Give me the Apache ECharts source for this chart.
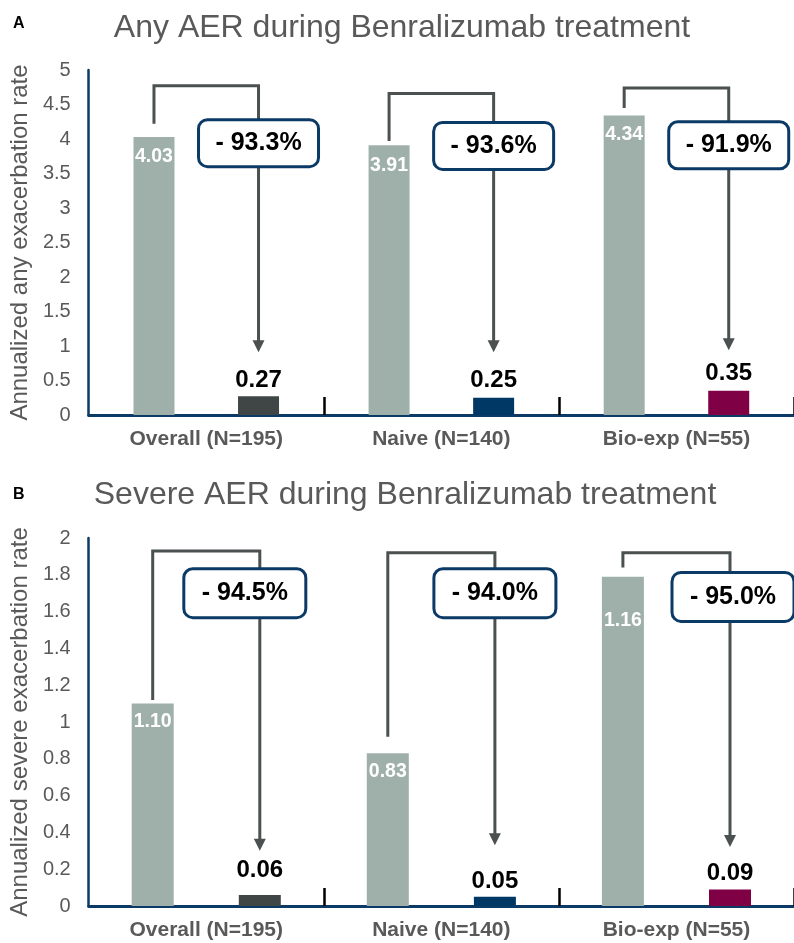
<!DOCTYPE html>
<html>
<head>
<meta charset="utf-8">
<script src="https://cdn.jsdelivr.net/npm/echarts@6/dist/echarts.min.js"></script>
<style>
  html, body { margin: 0; padding: 0; background: #ffffff; }
  #chart { width: 794px; height: 943px; }
</style>
</head>
<body>
<div id="chart"></div>
<script>
// ---------- data ----------
const categories = ['Overall (N=195)', 'Naive (N=140)', 'Bio-exp (N=55)'];

const anyBaseline = [4.03, 3.91, 4.34];
const anyTreatment = [0.27, 0.25, 0.35];
const anyReduction = ['- 93.3%', '- 93.6%', '- 91.9%'];

const severeBaseline = [1.10, 0.83, 1.79];          // bar heights as drawn
const severeBaselineLabels = ['1.10', '0.83', '1.16']; // labels as printed
const severeTreatment = [0.06, 0.05, 0.09];
const severeReduction = ['- 94.5%', '- 94.0%', '- 95.0%'];

const anyTicks = { min: 0, max: 5, interval: 0.5 };
const severeTicks = { min: 0, max: 2, interval: 0.2 };

// bracket annotations, in axis value units
const anyBracketTop = [4.77, 4.66, 4.74];
const anyBracketStart = [4.22, 3.97, 4.45];
const anyArrowTip = [0.91, 0.91, 0.94];
const anyBoxCenter = [3.94, 3.90, 3.91];

const severeBracketTop = [1.93, 1.92, 1.92];
const severeBracketStart = [1.12, 0.92, 1.84];
const severeArrowTip = [0.30, 0.33, 0.32];
const severeBoxCenter = [1.70, 1.70, 1.68];

// ---------- style ----------
const FONT = '"Liberation Sans", Arial, sans-serif';
const GRAY_BAR = '#9fb0aa';
const TREAT_COLORS = ['#404545', '#003865', '#800046'];
const AXIS_COLOR = '#0b3a66';
const TEXT_GRAY = '#595959';
const LINE_COLOR = '#4b5050';

const panels = [
  { grid: { left: 88, top: 70, height: 345, width: 709.5 }, barWidth: 41, barGap: 1.55,
    boxW: 120, boxH: 47, boxShift: [0, 0, 0] },
  { grid: { left: 88, top: 538, height: 368, width: 717 }, barWidth: 42, barGap: 1.55,
    boxW: 122, boxH: 49, boxShift: [-15, 0, 3] }
];

function makeAnnotation(pIdx, reduction, tops, starts, tips, boxCenters) {
  const p = panels[pIdx];
  const off = p.barWidth * (1 + p.barGap) / 2;
  return {
    type: 'custom',
    xAxisIndex: pIdx, yAxisIndex: pIdx,
    z: 10, silent: true, clip: false,
    data: categories.map((c, i) => [i]),
    encode: { x: 0 },
    renderItem: function (params, api) {
      const i = api.value(0);
      const cx = api.coord([i, 0])[0];
      const lx = cx - off, rx = cx + off;
      const yTop = api.coord([i, tops[i]])[1];
      const yStart = api.coord([i, starts[i]])[1];
      const yTip = api.coord([i, tips[i]])[1];
      const yBox = api.coord([i, boxCenters[i]])[1];
      const ah = 12, aw = 6;
      const bx = rx + p.boxShift[i];
      return {
        type: 'group',
        children: [
          { type: 'polyline', shape: { points: [[lx, yStart], [lx, yTop], [rx, yTop], [rx, yTip - ah + 1]] },
            style: { stroke: LINE_COLOR, lineWidth: 3, fill: null } },
          { type: 'polygon', shape: { points: [[rx - aw, yTip - ah], [rx + aw, yTip - ah], [rx, yTip]] },
            style: { fill: LINE_COLOR } },
          { type: 'rect', shape: { x: bx - p.boxW / 2, y: yBox - p.boxH / 2, width: p.boxW, height: p.boxH, r: 9 },
            style: { fill: '#ffffff', stroke: AXIS_COLOR, lineWidth: 3 } },
          { type: 'text', style: { text: reduction[i], x: bx, y: yBox, align: 'center', verticalAlign: 'middle',
            font: 'bold 25px ' + FONT, fill: '#000000' } }
        ]
      };
    }
  };
}

function baselineSeries(pIdx, values, labels, distances) {
  const p = panels[pIdx];
  return {
    type: 'bar', xAxisIndex: pIdx, yAxisIndex: pIdx,
    barWidth: p.barWidth, barGap: (p.barGap * 100) + '%',
    itemStyle: { color: GRAY_BAR },
    data: values.map((v, i) => ({
      value: v,
      label: { show: true, position: 'insideTop', distance: distances[i],
        formatter: labels[i], color: '#ffffff', fontWeight: 'bold', fontSize: 19.5, fontFamily: FONT }
    }))
  };
}

function treatmentSeries(pIdx, values, distances) {
  const p = panels[pIdx];
  return {
    type: 'bar', xAxisIndex: pIdx, yAxisIndex: pIdx,
    barWidth: p.barWidth, barGap: (p.barGap * 100) + '%',
    data: values.map((v, i) => ({
      value: v,
      itemStyle: { color: TREAT_COLORS[i] },
      label: { show: true, position: 'top', distance: distances[i],
        formatter: v.toFixed(2), color: '#000000', fontWeight: 'bold', fontSize: 24, fontFamily: FONT }
    }))
  };
}

function xAxis(gi) {
  return {
    type: 'category', gridIndex: gi, data: categories,
    axisLine: { lineStyle: { color: AXIS_COLOR, width: 3 } },
    axisTick: { show: true, inside: true, length: 18, interval: function (idx) { return idx > 0; },
      lineStyle: { color: '#000000', width: 2.5 } },
    axisLabel: { color: TEXT_GRAY, fontWeight: 'bold', fontSize: 21, fontFamily: FONT, margin: 14 }
  };
}

function yAxis(gi, ticks, name) {
  return {
    type: 'value', gridIndex: gi, min: ticks.min, max: ticks.max, interval: ticks.interval,
    name: name, nameLocation: 'middle', nameGap: 55,
    nameTextStyle: { color: TEXT_GRAY, fontSize: 24, fontFamily: FONT },
    axisLine: { show: true, lineStyle: { color: AXIS_COLOR, width: 2.5 } },
    axisTick: { show: false },
    splitLine: { show: false },
    axisLabel: { color: TEXT_GRAY, fontSize: 20, fontFamily: FONT, margin: 18 }
  };
}

const chart = echarts.init(document.getElementById('chart'), null, { renderer: 'canvas' });
chart.setOption({
  animation: false,
  backgroundColor: '#ffffff',
  title: [
    { text: 'A', left: 13, top: 16, padding: 0, textStyle: { fontSize: 16, fontWeight: 'bold', color: '#000', fontFamily: FONT } },
    { text: 'Any AER during Benralizumab treatment', left: 402, textAlign: 'center', top: 12, padding: 0,
      textStyle: { fontSize: 32, fontWeight: 'normal', color: TEXT_GRAY, fontFamily: FONT } },
    { text: 'B', left: 13, top: 487, padding: 0, textStyle: { fontSize: 16, fontWeight: 'bold', color: '#000', fontFamily: FONT } },
    { text: 'Severe AER during Benralizumab treatment', left: 405, textAlign: 'center', top: 479, padding: 0,
      textStyle: { fontSize: 32, fontWeight: 'normal', color: TEXT_GRAY, fontFamily: FONT } }
  ],
  grid: panels.map(p => Object.assign({ containLabel: false }, p.grid)),
  xAxis: [xAxis(0), xAxis(1)],
  yAxis: [yAxis(0, anyTicks, 'Annualized any exacerbation rate'),
          yAxis(1, severeTicks, 'Annualized severe exacerbation rate')],
  series: [
    baselineSeries(0, anyBaseline, anyBaseline.map(v => v.toFixed(2)), [10, 10, 9]),
    treatmentSeries(0, anyTreatment, [4, 5, 5]),
    baselineSeries(1, severeBaseline, severeBaselineLabels, [8, 8, 34]),
    treatmentSeries(1, severeTreatment, [13, 3, 4]),
    makeAnnotation(0, anyReduction, anyBracketTop, anyBracketStart, anyArrowTip, anyBoxCenter),
    makeAnnotation(1, severeReduction, severeBracketTop, severeBracketStart, severeArrowTip, severeBoxCenter)
  ]
});
</script>
</body>
</html>
